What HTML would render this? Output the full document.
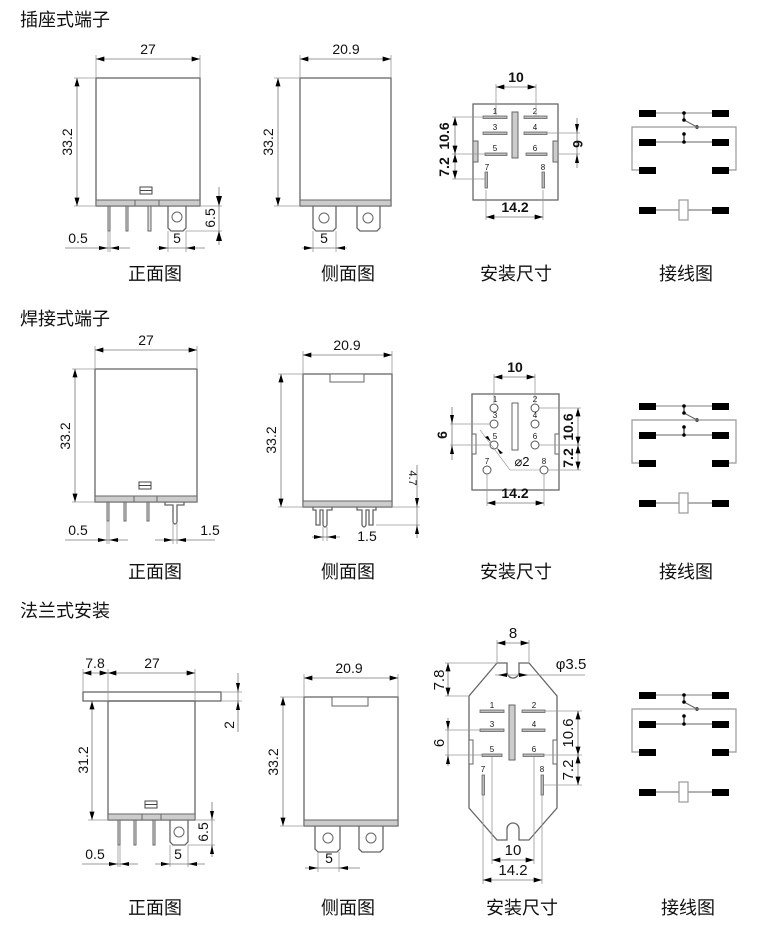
<!DOCTYPE html>
<html><head><meta charset="utf-8"><style>
html,body{margin:0;padding:0;background:#fff;}
svg{display:block;}
text{font-family:"Liberation Sans","Noto Sans CJK SC",sans-serif;fill:#111;}
.t{font-size:18px;}
.l{font-size:18px;text-anchor:middle;}
.d{font-size:14px;text-anchor:middle;}
.s{font-size:8px;text-anchor:middle;}
.o{fill:none;stroke:#666;stroke-width:1.3;}
.e{fill:none;stroke:#999;stroke-width:0.8;}
.m{fill:none;stroke:#777;stroke-width:0.8;marker-start:url(#a);marker-end:url(#a);}
.b{fill:#ccc;stroke:#666;stroke-width:1;}
.p{fill:#ddd;stroke:#666;stroke-width:1;}
</style></head><body>
<svg width="766" height="935" viewBox="0 0 766 935" xmlns="http://www.w3.org/2000/svg">
<defs>
<marker id="a" viewBox="0 0 10 6" refX="10" refY="3" markerWidth="9" markerHeight="5" orient="auto-start-reverse" markerUnits="userSpaceOnUse"><path d="M0,0L10,3L0,6z" fill="#000"/></marker>
<g id="w">
<rect x="639" y="110" width="17" height="7" fill="#000"/><rect x="712" y="110" width="17" height="7" fill="#000"/>
<rect x="639" y="139" width="17" height="7" fill="#000"/><rect x="712" y="139" width="17" height="7" fill="#000"/>
<rect x="639" y="167" width="17" height="7" fill="#000"/><rect x="712" y="167" width="17" height="7" fill="#000"/>
<rect x="639" y="207" width="17" height="7" fill="#000"/><rect x="712" y="207" width="17" height="7" fill="#000"/>
<line x1="656" y1="113" x2="712" y2="113" stroke="#aaa" stroke-width="1.5"/>
<line x1="656" y1="142" x2="712" y2="142" stroke="#666" stroke-width="1"/>
<line x1="684" y1="113" x2="684" y2="120" stroke="#000"/>
<line x1="684" y1="134" x2="684" y2="142" stroke="#000"/>
<line x1="684" y1="120" x2="697" y2="127" stroke="#666"/>
<circle cx="684" cy="113" r="1.8"/><circle cx="684" cy="120" r="1.8"/><circle cx="697" cy="127" r="1.8"/><circle cx="684" cy="134" r="1.8"/><circle cx="684" cy="142" r="1.8"/>
<path d="M639,170H632V127H736V170H729" fill="none" stroke="#999" stroke-width="1.2"/>
<line x1="656" y1="210" x2="712" y2="210" stroke="#666"/>
<rect x="679" y="200" width="9" height="20" fill="#fff" stroke="#999" stroke-width="1.2"/>
</g>
</defs>

<!-- ============ SECTION 1 ============ -->
<text class="t" x="20" y="26">插座式端子</text>
<rect class="o" x="96" y="78" width="104" height="128"/>
<rect class="b" x="96" y="200" width="104" height="6"/>
<line x1="135" y1="200" x2="135" y2="206" stroke="#666"/><line x1="159" y1="200" x2="159" y2="206" stroke="#666"/>
<rect x="140" y="187" width="12" height="7" fill="#fff" stroke="#444"/><line x1="140" y1="190.5" x2="152" y2="190.5" stroke="#444"/>
<rect class="p" x="108" y="206" width="2" height="25"/><rect class="p" x="126" y="206" width="2" height="25"/><rect class="p" x="148" y="206" width="3" height="25"/>
<path class="o" d="M168,206V228L171,231H183L186,228V206"/><circle cx="177" cy="217" r="5" fill="none" stroke="#666"/>
<line class="e" x1="96" y1="55" x2="96" y2="78"/><line class="e" x1="200" y1="55" x2="200" y2="78"/>
<line class="m" x1="96" y1="59" x2="200" y2="59"/><text class="d" x="148" y="54">27</text>
<line class="e" x1="74" y1="78" x2="96" y2="78"/><line class="e" x1="74" y1="206" x2="96" y2="206"/>
<line class="m" x1="77" y1="78" x2="77" y2="206"/><text class="d" transform="translate(72,142) rotate(-90)">33.2</text>
<line class="e" x1="200" y1="206" x2="222" y2="206"/><line class="e" x1="186" y1="231" x2="222" y2="231"/>
<line x1="219" y1="187" x2="219" y2="245" stroke="#777" stroke-width="0.8"/>
<path d="M216,196L219,206L222,196z M216,241L219,231L222,241z"/>
<text class="d" transform="translate(215,218) rotate(-90)">6.5</text>
<line class="e" x1="108" y1="231" x2="108" y2="252"/><line class="e" x1="110" y1="231" x2="110" y2="252"/>
<line x1="65" y1="248" x2="130" y2="248" stroke="#777" stroke-width="0.8"/>
<path d="M99,246L108,248L99,250z M119,246L110,248L119,250z"/>
<text class="d" x="78" y="243">0.5</text>
<line class="e" x1="168" y1="231" x2="168" y2="252"/><line class="e" x1="186" y1="231" x2="186" y2="252"/>
<line x1="157" y1="248" x2="205" y2="248" stroke="#777" stroke-width="0.8"/>
<path d="M159,246L168,248L159,250z M195,246L186,248L195,250z"/>
<text class="d" x="177" y="243">5</text>
<text class="l" x="155" y="280">正面图</text>
<rect class="o" x="300" y="78" width="91" height="128"/>
<rect class="b" x="300" y="200" width="91" height="6"/>
<path class="o" d="M313,206V228L316,231H333L336,228V206"/><circle cx="324" cy="218" r="5" fill="none" stroke="#666"/>
<path class="o" d="M357,206V228L360,231H377L380,228V206"/><circle cx="368" cy="218" r="5" fill="none" stroke="#666"/>
<line class="e" x1="300" y1="55" x2="300" y2="78"/><line class="e" x1="391" y1="55" x2="391" y2="78"/>
<line class="m" x1="300" y1="59" x2="391" y2="59"/><text class="d" x="346" y="54">20.9</text>
<line class="e" x1="274" y1="78" x2="300" y2="78"/><line class="e" x1="274" y1="206" x2="300" y2="206"/>
<line class="m" x1="278" y1="78" x2="278" y2="206"/><text class="d" transform="translate(273,142) rotate(-90)">33.2</text>
<line class="e" x1="313" y1="231" x2="313" y2="252"/><line class="e" x1="336" y1="231" x2="336" y2="252"/>
<line x1="302" y1="248" x2="347" y2="248" stroke="#777" stroke-width="0.8"/>
<path d="M304,246L313,248L304,250z M345,246L336,248L345,250z"/>
<text class="d" x="324" y="243">5</text>
<text class="l" x="348" y="280">侧面图</text>
<rect class="o" x="473" y="104" width="85" height="96"/>
<rect class="b" x="512" y="112" width="6" height="46"/>
<rect class="b" x="473" y="141" width="5" height="21"/><rect class="b" x="553" y="141" width="5" height="21"/>
<g fill="#bbb" stroke="#666" stroke-width="0.8">
<rect x="483" y="116" width="24" height="2.5"/><rect x="524" y="116" width="23" height="2.5"/>
<rect x="483" y="132" width="24" height="2.5"/><rect x="524" y="132" width="23" height="2.5"/>
<rect x="485" y="153" width="22" height="2.5"/><rect x="526" y="153" width="21" height="2.5"/>
<rect x="485" y="172" width="2.5" height="16"/><rect x="542" y="172" width="2.5" height="16"/></g>
<text class="s" x="495" y="114">1</text><text class="s" x="535" y="114">2</text><text class="s" x="495" y="130">3</text><text class="s" x="535" y="130">4</text><text class="s" x="495" y="151">5</text><text class="s" x="535" y="151">6</text><text class="s" x="487" y="170">7</text><text class="s" x="543" y="170">8</text>
<line class="e" x1="496" y1="84" x2="496" y2="116"/><line class="e" x1="536" y1="84" x2="536" y2="116"/>
<line class="m" x1="496" y1="87" x2="536" y2="87"/><text class="d" x="516" y="82" style="font-weight:bold">10</text>
<line class="e" x1="452" y1="117" x2="483" y2="117"/><line class="e" x1="452" y1="154" x2="485" y2="154"/><line class="e" x1="452" y1="179" x2="486" y2="179"/>
<line class="m" x1="455" y1="117" x2="455" y2="154"/><line class="m" x1="455" y1="154" x2="455" y2="179"/>
<text class="d" transform="translate(449,136) rotate(-90)" style="font-weight:bold">10.6</text>
<text class="d" transform="translate(449,167) rotate(-90)" style="font-weight:bold">7.2</text>
<line class="e" x1="547" y1="133" x2="580" y2="133"/><line class="e" x1="558" y1="154" x2="580" y2="154"/>
<line x1="577" y1="118" x2="577" y2="168" stroke="#777" stroke-width="0.8"/>
<path d="M575,124L577,133L579,124z M575,163L577,154L579,163z"/>
<text class="d" transform="translate(573,144) rotate(90)" style="font-weight:bold">6</text>
<line class="e" x1="486" y1="190" x2="486" y2="220"/><line class="e" x1="543" y1="190" x2="543" y2="220"/>
<line class="m" x1="486" y1="217" x2="543" y2="217"/><text class="d" x="515" y="212" style="font-weight:bold">14.2</text>
<text class="l" x="516" y="280">安装尺寸</text>
<use href="#w"/>
<text class="l" x="686" y="280">接线图</text>

<!-- ============ SECTION 2 ============ -->
<text class="t" x="20" y="325">焊接式端子</text>
<rect class="o" x="95" y="369" width="102" height="133"/>
<rect class="b" x="95" y="496" width="102" height="6"/>
<line x1="134" y1="496" x2="134" y2="502" stroke="#666"/><line x1="157" y1="496" x2="157" y2="502" stroke="#666"/>
<rect x="139" y="482" width="12" height="7" fill="#fff" stroke="#444"/><line x1="139" y1="485.5" x2="151" y2="485.5" stroke="#444"/>
<rect class="p" x="107" y="502" width="2" height="19"/><rect class="p" x="124" y="502" width="2" height="19"/><rect class="p" x="147" y="502" width="2" height="19"/>
<path class="o" d="M165,502V505H173V522Q175,526 177,522V505H184V502"/>
<line class="e" x1="95" y1="346" x2="95" y2="369"/><line class="e" x1="197" y1="346" x2="197" y2="369"/>
<line class="m" x1="95" y1="350" x2="197" y2="350"/><text class="d" x="146" y="345">27</text>
<line class="e" x1="72" y1="369" x2="95" y2="369"/><line class="e" x1="72" y1="502" x2="95" y2="502"/>
<line class="m" x1="75" y1="369" x2="75" y2="502"/><text class="d" transform="translate(70,436) rotate(-90)">33.2</text>
<line class="e" x1="107" y1="521" x2="107" y2="544"/><line class="e" x1="109" y1="521" x2="109" y2="544"/>
<line x1="65" y1="540" x2="128" y2="540" stroke="#777" stroke-width="0.8"/>
<path d="M98,538L107,540L98,542z M118,538L109,540L118,542z"/>
<text class="d" x="78" y="535">0.5</text>
<line class="e" x1="173" y1="522" x2="173" y2="544"/><line class="e" x1="177" y1="522" x2="177" y2="544"/>
<line x1="155" y1="540" x2="215" y2="540" stroke="#777" stroke-width="0.8"/>
<path d="M164,538L173,540L164,542z M186,538L177,540L186,542z"/>
<text class="d" x="210" y="535">1.5</text>
<text class="l" x="155" y="578">正面图</text>
<rect class="o" x="303" y="374" width="89" height="133"/>
<rect class="b" x="303" y="501" width="89" height="6"/>
<rect x="330" y="374" width="34" height="8" fill="#fff" stroke="#666"/>
<g class="o"><path d="M313,507V510H316V525H320V510H323V525Q325,529 327,525V510H332V507"/>
<path d="M357,507V510H362V525Q364,529 366,525V510H369V525H373V510H376V507"/></g>
<line class="e" x1="303" y1="351" x2="303" y2="374"/><line class="e" x1="392" y1="351" x2="392" y2="374"/>
<line class="m" x1="303" y1="355" x2="392" y2="355"/><text class="d" x="347" y="350">20.9</text>
<line class="e" x1="278" y1="374" x2="303" y2="374"/><line class="e" x1="278" y1="507" x2="303" y2="507"/>
<line class="m" x1="281" y1="374" x2="281" y2="507"/><text class="d" transform="translate(276,440) rotate(-90)">33.2</text>
<line class="e" x1="392" y1="507" x2="420" y2="507"/><line class="e" x1="376" y1="525" x2="420" y2="525"/>
<line x1="417" y1="465" x2="417" y2="538" stroke="#777" stroke-width="0.8"/>
<path d="M415,498L417,507L419,498z M415,534L417,525L419,534z"/>
<text class="d" transform="translate(409,478) rotate(90)" style="font-size:11px">4.7</text>
<line class="e" x1="323" y1="527" x2="323" y2="541"/><line class="e" x1="327" y1="527" x2="327" y2="541"/>
<line x1="312" y1="537" x2="340" y2="537" stroke="#777" stroke-width="0.8"/>
<path d="M314,535L323,537L314,539z M336,535L327,537L336,539z"/>
<text class="d" x="367" y="541">1.5</text>
<text class="l" x="348" y="578">侧面图</text>
<rect class="o" x="472" y="394" width="87" height="96"/>
<rect class="b" x="512" y="403" width="6" height="47" style="fill:#fff"/>
<rect class="b" x="472" y="434" width="4" height="20" style="fill:#fff"/><rect class="b" x="555" y="434" width="4" height="20" style="fill:#fff"/>
<g fill="#fff" stroke="#555" stroke-width="1">
<circle cx="494" cy="408" r="4"/><circle cx="535" cy="408" r="4"/><circle cx="494" cy="424" r="4"/><circle cx="535" cy="424" r="4"/>
<circle cx="494" cy="445" r="4"/><circle cx="535" cy="445" r="4"/><circle cx="487" cy="470" r="4"/><circle cx="544" cy="470" r="4"/></g>
<text class="s" x="495" y="402">1</text><text class="s" x="535" y="402">2</text><text class="s" x="495" y="418">3</text><text class="s" x="535" y="418">4</text><text class="s" x="495" y="439">5</text><text class="s" x="535" y="439">6</text><text class="s" x="487" y="464">7</text><text class="s" x="544" y="464">8</text>
<line class="e" x1="494" y1="374" x2="494" y2="403"/><line class="e" x1="535" y1="374" x2="535" y2="403"/>
<line class="m" x1="494" y1="377" x2="535" y2="377"/><text class="d" x="515" y="372" style="font-weight:bold">10</text>
<line class="e" x1="539" y1="408" x2="581" y2="408"/><line class="e" x1="539" y1="445" x2="581" y2="445"/><line class="e" x1="548" y1="470" x2="581" y2="470"/>
<line class="m" x1="578" y1="408" x2="578" y2="445"/><line class="m" x1="578" y1="445" x2="578" y2="470"/>
<text class="d" transform="translate(573,427) rotate(-90)" style="font-weight:bold">10.6</text>
<text class="d" transform="translate(573,458) rotate(-90)" style="font-weight:bold">7.2</text>
<line class="e" x1="450" y1="424" x2="490" y2="424"/><line class="e" x1="450" y1="445" x2="490" y2="445"/>
<line x1="452" y1="407" x2="452" y2="460" stroke="#777" stroke-width="0.8"/>
<path d="M450,415L452,424L454,415z M450,454L452,445L454,454z"/>
<text class="d" transform="translate(447,435) rotate(-90)" style="font-weight:bold">6</text>
<line x1="480" y1="430" x2="510" y2="470" stroke="#888" stroke-width="0.6"/><line x1="510" y1="470" x2="540" y2="470" stroke="#888" stroke-width="0.6"/>
<path d="M485,437L491,442L488,436z M503,453L497,448L500,454z"/>
<text class="d" x="522" y="466" style="font-size:13px">⌀2</text>
<line class="e" x1="487" y1="474" x2="487" y2="506"/><line class="e" x1="544" y1="474" x2="544" y2="506"/>
<line class="m" x1="487" y1="503" x2="544" y2="503"/><text class="d" x="515" y="498" style="font-weight:bold">14.2</text>
<text class="l" x="516" y="578">安装尺寸</text>
<use href="#w" transform="translate(0,293)"/>
<text class="l" x="686" y="578">接线图</text>

<!-- ============ SECTION 3 ============ -->
<text class="t" x="20" y="617">法兰式安装</text>
<rect class="o" x="83" y="692" width="138" height="9"/>
<rect class="o" x="108" y="701" width="87" height="119"/>
<rect class="b" x="108" y="814" width="87" height="6"/>
<line x1="142" y1="814" x2="142" y2="820" stroke="#666"/><line x1="161" y1="814" x2="161" y2="820" stroke="#666"/>
<rect x="145" y="801" width="12" height="7" fill="#fff" stroke="#444"/><line x1="145" y1="804.5" x2="157" y2="804.5" stroke="#444"/>
<rect class="p" x="118" y="820" width="2" height="25"/><rect class="p" x="134" y="820" width="2" height="25"/><rect class="p" x="153" y="820" width="2" height="25"/>
<path class="o" d="M170,820V842L173,845H185L188,842V820"/><circle cx="179" cy="832" r="5" fill="none" stroke="#666"/>
<line class="e" x1="83" y1="669" x2="83" y2="692"/><line class="e" x1="108" y1="669" x2="108" y2="701"/><line class="e" x1="195" y1="669" x2="195" y2="701"/>
<line class="m" x1="83" y1="673" x2="108" y2="673"/><line class="m" x1="108" y1="673" x2="195" y2="673"/>
<text class="d" x="95" y="668">7.8</text><text class="d" x="152" y="668">27</text>
<line class="e" x1="221" y1="692" x2="242" y2="692"/><line class="e" x1="221" y1="701" x2="242" y2="701"/>
<line x1="238" y1="673" x2="238" y2="732" stroke="#777" stroke-width="0.8"/>
<path d="M236,683L238,692L240,683z M236,710L238,701L240,710z"/>
<text class="d" transform="translate(234,725) rotate(-90)">2</text>
<line class="e" x1="88" y1="820" x2="108" y2="820"/>
<line class="m" x1="92" y1="701" x2="92" y2="820"/><text class="d" transform="translate(88,760) rotate(-90)">31.2</text>
<line class="e" x1="195" y1="820" x2="215" y2="820"/><line class="e" x1="188" y1="845" x2="215" y2="845"/>
<line x1="212" y1="802" x2="212" y2="857" stroke="#777" stroke-width="0.8"/>
<path d="M210,811L212,820L214,811z M210,854L212,845L214,854z"/>
<text class="d" transform="translate(208,832) rotate(-90)">6.5</text>
<line class="e" x1="118" y1="845" x2="118" y2="867"/><line class="e" x1="120" y1="845" x2="120" y2="867"/>
<line x1="82" y1="864" x2="138" y2="864" stroke="#777" stroke-width="0.8"/>
<path d="M109,862L118,864L109,866z M129,862L120,864L129,866z"/>
<text class="d" x="95" y="859">0.5</text>
<line class="e" x1="170" y1="845" x2="170" y2="867"/><line class="e" x1="188" y1="845" x2="188" y2="867"/>
<line x1="155" y1="864" x2="205" y2="864" stroke="#777" stroke-width="0.8"/>
<path d="M161,862L170,864L161,866z M197,862L188,864L197,866z"/>
<text class="d" x="178" y="859">5</text>
<text class="l" x="155" y="914">正面图</text>
<rect class="o" x="304" y="697" width="94" height="129"/>
<rect class="b" x="304" y="820" width="94" height="6"/>
<rect x="332" y="697" width="36" height="9" fill="#fff" stroke="#666"/>
<path class="o" d="M315,826V849L318,852H337L340,849V826"/><circle cx="328" cy="838" r="5" fill="none" stroke="#666"/>
<path class="o" d="M359,826V849L362,852H380L383,849V826"/><circle cx="371" cy="838" r="5" fill="none" stroke="#666"/>
<line class="e" x1="304" y1="674" x2="304" y2="697"/><line class="e" x1="398" y1="674" x2="398" y2="697"/>
<line class="m" x1="304" y1="678" x2="398" y2="678"/><text class="d" x="349" y="673">20.9</text>
<line class="e" x1="280" y1="697" x2="304" y2="697"/><line class="e" x1="280" y1="826" x2="304" y2="826"/>
<line class="m" x1="283" y1="697" x2="283" y2="826"/><text class="d" transform="translate(278,762) rotate(-90)">33.2</text>
<line class="e" x1="318" y1="852" x2="318" y2="872"/><line class="e" x1="339" y1="852" x2="339" y2="872"/>
<line x1="305" y1="868" x2="360" y2="868" stroke="#777" stroke-width="0.8"/>
<path d="M309,866L318,868L309,870z M348,866L339,868L348,870z"/>
<text class="d" x="329" y="863">5</text>
<text class="l" x="348" y="914">侧面图</text>
<path class="o" d="M497,663H507V672A6,6 0 0 0 519,672V663H529L557,696V808L529,840H519V829A6,6 0 0 0 507,829V840H497L469,808V696Z"/>
<rect class="b" x="509" y="705" width="6" height="55"/>
<rect class="b" x="469" y="740" width="4" height="24" style="fill:#fff"/><rect class="b" x="553" y="740" width="4" height="24" style="fill:#fff"/>
<g fill="#bbb" stroke="#666" stroke-width="0.8">
<rect x="480" y="710" width="24" height="2.5"/><rect x="522" y="710" width="23" height="2.5"/>
<rect x="480" y="729" width="24" height="2.5"/><rect x="522" y="729" width="23" height="2.5"/>
<rect x="482" y="754" width="20" height="2.5"/><rect x="523" y="754" width="21" height="2.5"/>
<rect x="482" y="775" width="2.5" height="20"/><rect x="541" y="775" width="2.5" height="20"/></g>
<text class="s" x="492" y="708">1</text><text class="s" x="534" y="708">2</text><text class="s" x="492" y="727">3</text><text class="s" x="534" y="727">4</text><text class="s" x="492" y="752">5</text><text class="s" x="534" y="752">6</text><text class="s" x="483" y="772">7</text><text class="s" x="542" y="772">8</text>
<line class="e" x1="497" y1="640" x2="497" y2="663"/><line class="e" x1="529" y1="640" x2="529" y2="663"/>
<line class="m" x1="497" y1="643" x2="529" y2="643"/><text class="d" x="513" y="638" style="font-size:15px">8</text>
<line x1="495" y1="675" x2="585" y2="675" stroke="#888" stroke-width="0.7"/>
<path d="M507,673L498,675L507,677z M519,673L528,675L519,677z"/>
<text class="d" x="571" y="669" style="font-size:15px">φ3.5</text>
<line class="e" x1="445" y1="663" x2="497" y2="663"/><line class="e" x1="445" y1="696" x2="469" y2="696"/>
<line class="m" x1="448" y1="663" x2="448" y2="696"/><text class="d" transform="translate(444,680) rotate(-90)" style="font-size:15px">7.8</text>
<line class="e" x1="445" y1="730" x2="480" y2="730"/><line class="e" x1="445" y1="755" x2="482" y2="755"/>
<line x1="448" y1="718" x2="448" y2="766" stroke="#777" stroke-width="0.8"/>
<path d="M446,721L448,730L450,721z M446,764L448,755L450,764z"/>
<text class="d" transform="translate(444,743) rotate(-90)" style="font-size:15px">6</text>
<line class="e" x1="545" y1="711" x2="582" y2="711"/><line class="e" x1="544" y1="755" x2="582" y2="755"/><line class="e" x1="544" y1="785" x2="582" y2="785"/>
<line class="m" x1="578" y1="711" x2="578" y2="755"/><line class="m" x1="578" y1="755" x2="578" y2="785"/>
<text class="d" transform="translate(573,733) rotate(-90)" style="font-size:15px">10.6</text>
<text class="d" transform="translate(573,770) rotate(-90)" style="font-size:15px">7.2</text>
<line class="e" x1="492" y1="757" x2="492" y2="864"/><line class="e" x1="534" y1="757" x2="534" y2="864"/>
<line class="m" x1="492" y1="860" x2="534" y2="860"/><text class="d" x="513" y="855" style="font-size:15px">10</text>
<line class="e" x1="483" y1="795" x2="483" y2="884"/><line class="e" x1="542" y1="795" x2="542" y2="884"/>
<line class="m" x1="483" y1="880" x2="542" y2="880"/><text class="d" x="513" y="875" style="font-size:15px">14.2</text>
<text class="l" x="522" y="914">安装尺寸</text>
<use href="#w" transform="translate(0,582)"/>
<text class="l" x="688" y="914">接线图</text>
</svg>
</body></html>
